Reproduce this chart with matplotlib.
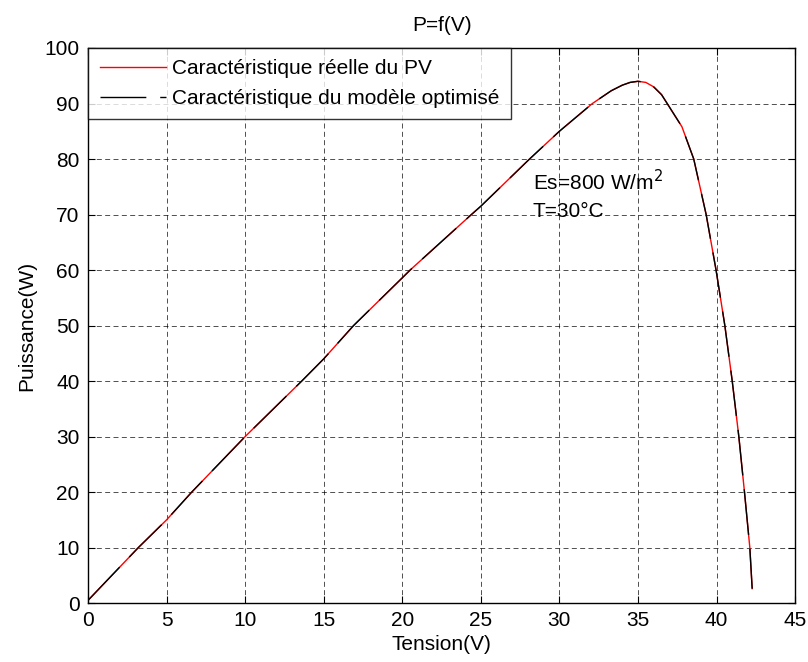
import matplotlib
matplotlib.use("Agg")
import matplotlib.pyplot as plt

# data (V in volts, P in watts)
tension = [0, 3.2, 5, 6.6, 10, 13.6, 15, 16.9, 20, 20.5, 24.4, 25, 28.1, 30,
           32.1, 33.3, 34.0, 34.5, 35, 35.5, 36.0, 36.5, 36.86, 37.8, 38.55,
           39.34, 39.97, 40.53, 41.0, 41.42, 41.78, 42.12, 42.27]
puissance = [0.5, 10, 15, 20, 30, 40, 44, 50, 58.6, 60, 70, 71.5, 80, 85,
             90, 92.3, 93.3, 93.8, 94, 93.8, 93.0, 91.6, 90, 85.8, 80,
             70, 60, 50, 40, 30, 20, 10, 2.6]

x_ticks = [0, 5, 10, 15, 20, 25, 30, 35, 40, 45]
y_ticks = [0, 10, 20, 30, 40, 50, 60, 70, 80, 90, 100]

plt.rcParams['font.family'] = ['Liberation Sans', 'DejaVu Sans']
fs = 15

fig = plt.figure(figsize=(8.08, 6.62), dpi=100)
ax = fig.add_axes([0.109, 0.089, 0.875, 0.8385])

ax.plot(tension, puissance, color='#ff0000', lw=1.0,
        label='Caractéristique réelle du PV')
ax.plot(tension, puissance, color='black', lw=1.0, dashes=(33, 10),
        label='Caractéristique du modèle optimisé')

ax.set_xlim(0, 45)
ax.set_ylim(0, 100)
ax.set_xticks(x_ticks)
ax.set_yticks(y_ticks)
ax.tick_params(direction='in', top=True, right=True, length=5, labelsize=fs,
               pad=6)
ax.grid(True, color='black', linestyle=(0, (6, 4)), linewidth=0.6, alpha=0.8)
for s in ax.spines.values():
    s.set_linewidth(1.0)

ax.set_xlabel('Tension(V)', fontsize=fs, labelpad=3)
ax.set_ylabel('Puissance(W)', fontsize=fs, labelpad=6)
ax.set_title('P=f(V)', fontsize=fs, pad=12)

ax.text(28.3, 75.9, 'Es=800 W/m$^2$', fontsize=fs, va='center')
ax.text(28.3, 70.5, 'T=30°C', fontsize=fs, va='center')

leg = ax.legend(loc='upper left', fontsize=fs, frameon=True, fancybox=False,
                edgecolor='black', borderaxespad=0, handlelength=3.2,
                handletextpad=0.3, borderpad=0.55, labelspacing=0.5)
leg.get_frame().set_linewidth(1.0)

fig.savefig('out.png', dpi=100)
